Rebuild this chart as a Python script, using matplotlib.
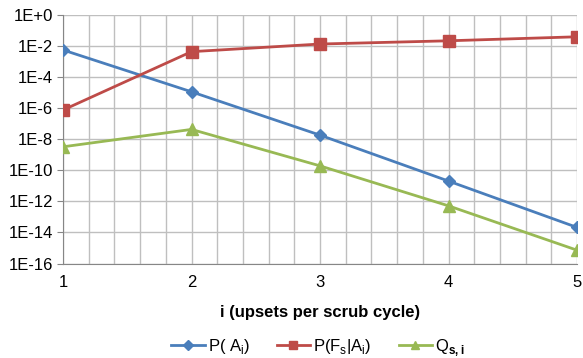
import matplotlib
matplotlib.use("Agg")
import matplotlib.pyplot as plt
import numpy as np

plt.rcParams['font.family'] = ['Liberation Sans', 'DejaVu Sans']
plt.rcParams['mathtext.fontset'] = 'custom'
plt.rcParams['mathtext.rm'] = 'Liberation Sans'
plt.rcParams['mathtext.bf'] = 'Liberation Sans:bold'

x = [1, 2, 3, 4, 5]
p_a = [5.4e-3, 1.1e-5, 1.8e-8, 2.0e-11, 2.1e-14]
p_fa = [7.4e-7, 4.2e-3, 1.3e-2, 2.1e-2, 3.8e-2]
q_s = [3.2e-9, 4.2e-8, 1.9e-10, 5.1e-13, 7.2e-16]

labels = [r'P( A$_\mathregular{i}$)',
          r'P(F$_\mathregular{s}$|A$_\mathregular{i}$)',
          r'Q$_\mathbf{s,i}$']
colors = ['#4A7EBB', '#BE4B48', '#98B954']
markers = ['D', 's', '^']
msizes = [6, 8, 8]

fig = plt.figure(figsize=(5.83, 3.58), dpi=100)
ax = fig.add_axes([63/583, 1 - 263.5/358, (577-63)/583, (263.5-14.7)/358])

for ys, lab, c, m, ms in zip([p_a, p_fa, q_s], labels, colors, markers, msizes):
    ax.plot(x, ys, color=c, marker=m, markersize=ms, linewidth=2, label=lab,
            markeredgecolor=c, zorder=3)

ax.set_yscale('log')
ax.set_ylim(1e-16, 1)
ax.set_xlim(1, 5)
yt = [10.0**(-k) for k in range(0, 17, 2)]
ax.set_yticks(yt)
ax.set_yticklabels(['1E+0'] + ['1E-%d' % k for k in range(2, 17, 2)])
ax.yaxis.set_minor_locator(matplotlib.ticker.NullLocator())
ax.set_xticks([1, 2, 3, 4, 5])
ax.set_xticks(np.arange(1, 5.01, 0.2), minor=True)
ax.grid(True, which='major', color='#BFBFBF', linewidth=1)
ax.grid(True, which='minor', axis='x', color='#BFBFBF', linewidth=1)
ax.tick_params(axis='y', which='major', length=4, color='#868686', labelsize=12, pad=3)
ax.tick_params(axis='x', which='both', length=0, labelsize=12, pad=8)
for s in ['top', 'right']:
    ax.spines[s].set_visible(False)
for s in ['left', 'bottom']:
    ax.spines[s].set_color('#868686')
ax.set_axisbelow(True)

ax.set_xlabel('i (upsets per scrub cycle)', fontsize=12, fontweight='bold', labelpad=11)

leg = fig.legend(loc='center', bbox_to_anchor=(318/583, 1 - 347/358), ncol=3, frameon=False,
                 fontsize=12, handlelength=2.0, columnspacing=1.6, handletextpad=0.2,
                 markerscale=0.8)

fig.savefig('out.png', dpi=100)
